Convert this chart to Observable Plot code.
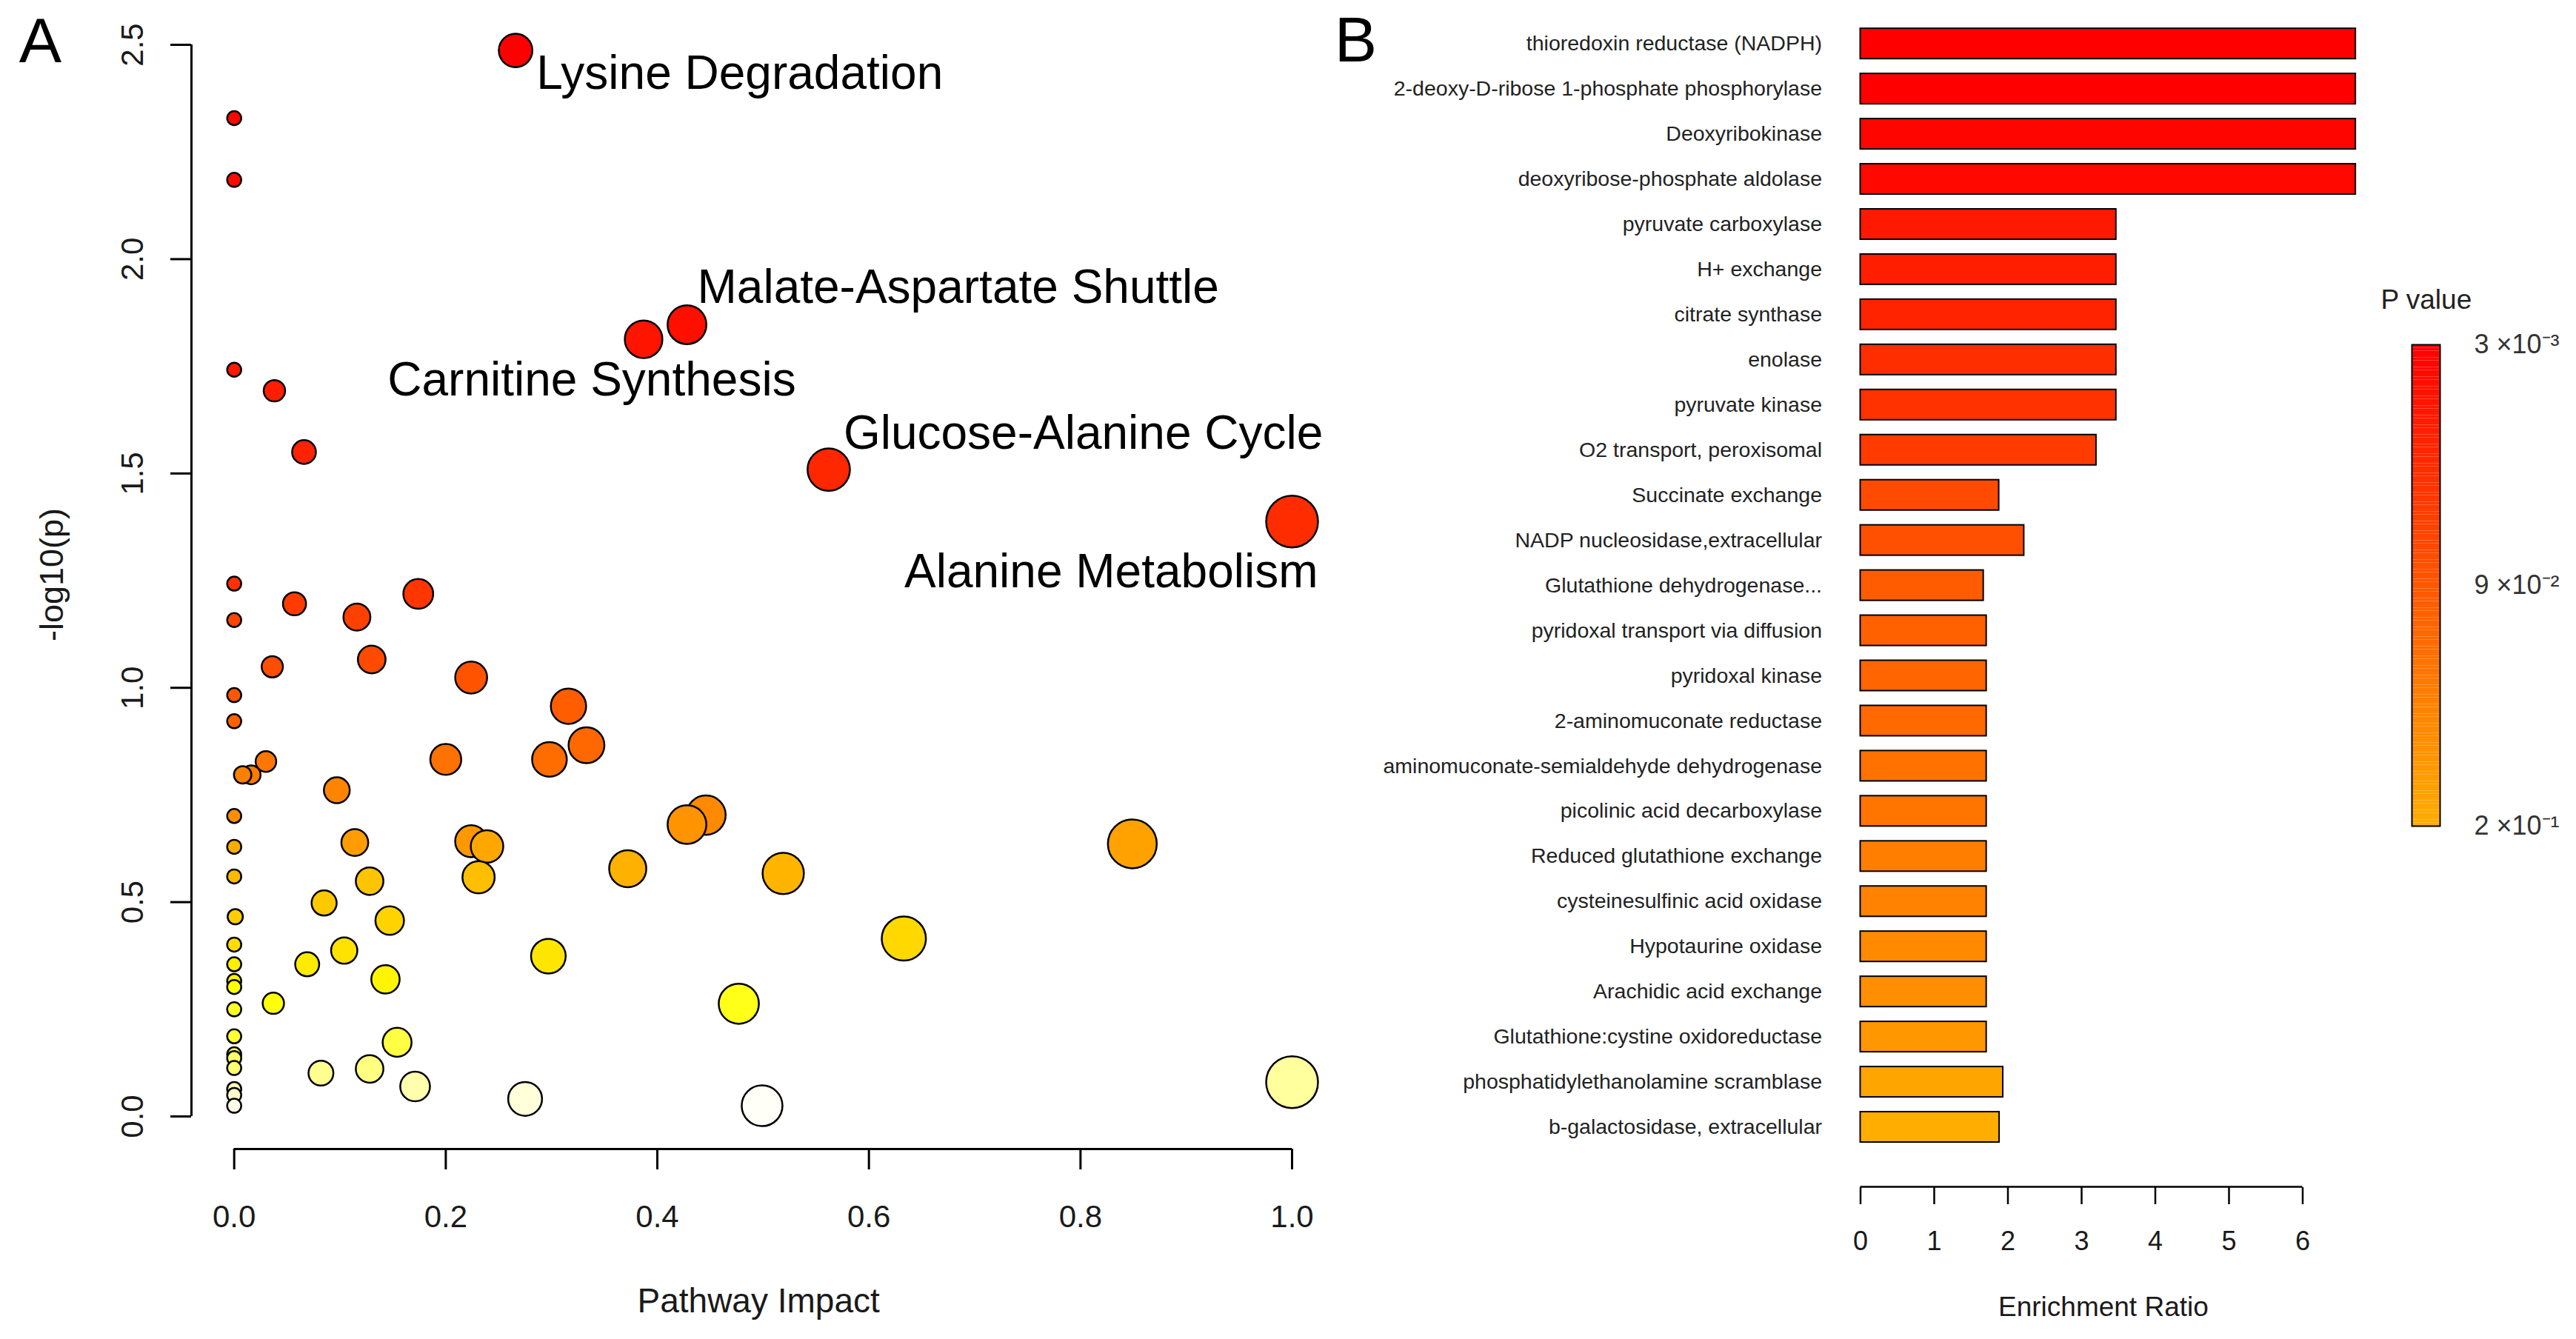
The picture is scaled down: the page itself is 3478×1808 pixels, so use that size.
<!DOCTYPE html>
<html>
<head>
<meta charset="utf-8">
<script src="https://cdn.jsdelivr.net/npm/d3@7"></script>
<script src="https://cdn.jsdelivr.net/npm/@observablehq/plot@0.6"></script>
<style>
html, body { margin: 0; padding: 0; background: #fff; }
#wrap { position: relative; width: 3478px; height: 1808px; overflow: hidden; background: #fff;
        font-family: "Liberation Sans", Arial, sans-serif; }
#wrap svg { position: absolute; top: 0; max-width: none; overflow: visible; background: transparent; }
</style>
</head>
<body>
<div id="wrap"></div>
<script>
// ---------------- Panel A data: pathway impact vs -log10(p) ----------------
const impact = [
  0.266, 0.000, 0.000, 0.428, 0.387, 0.000, 0.038, 0.066, 0.562, 1.000,
  0.000, 0.174, 0.057, 0.116, 0.000, 0.130, 0.036, 0.224, 0.000, 0.316,
  0.000, 0.333, 0.298, 0.200, 0.030, 0.016, 0.008, 0.097, 0.446, 0.000,
  0.428, 0.224, 0.114, 0.849, 0.239, 0.000, 0.372, 0.519, 0.000, 0.231,
  0.128, 0.085, 0.001, 0.147, 0.633, 0.000, 0.104, 0.297, 0.069, 0.000,
  0.143, 0.000, 0.000, 0.037, 0.477, 0.000, 0.000, 0.154, 0.000, 0.000,
  0.000, 0.128, 0.082, 1.000, 0.171, 0.000, 0.000, 0.275, 0.000, 0.499
];
const negLogP = [
  2.487, 2.329, 2.185, 1.847, 1.813, 1.742, 1.693, 1.550, 1.509, 1.388,
  1.243, 1.219, 1.196, 1.165, 1.158, 1.066, 1.049, 1.024, 0.983, 0.957,
  0.922, 0.866, 0.833, 0.833, 0.828, 0.797, 0.797, 0.761, 0.703, 0.701,
  0.681, 0.642, 0.639, 0.636, 0.630, 0.629, 0.578, 0.567, 0.560, 0.558,
  0.549, 0.498, 0.466, 0.457, 0.415, 0.401, 0.387, 0.374, 0.355, 0.355,
  0.320, 0.316, 0.302, 0.264, 0.263, 0.250, 0.187, 0.173, 0.145, 0.136,
  0.113, 0.111, 0.101, 0.080, 0.070, 0.064, 0.050, 0.041, 0.025, 0.025
];
const labelIndex = [0, 3, 4, 8, 9];
const labelNames = ["Lysine Degradation", "Malate-Aspartate Shuttle", "Carnitine Synthesis",
                    "Glucose-Alanine Cycle", "Alanine Metabolism"];
const xTicksA = [0, 0.2, 0.4, 0.6, 0.8, 1.0];
const yTicksA = [0, 0.5, 1.0, 1.5, 2.0, 2.5];

// ---------------- Panel B data: enrichment ratio ----------------
const enzymes = [
  "thioredoxin reductase (NADPH)",
  "2-deoxy-D-ribose 1-phosphate phosphorylase",
  "Deoxyribokinase",
  "deoxyribose-phosphate aldolase",
  "pyruvate carboxylase",
  "H+ exchange",
  "citrate synthase",
  "enolase",
  "pyruvate kinase",
  "O2 transport, peroxisomal",
  "Succinate exchange",
  "NADP nucleosidase,extracellular",
  "Glutathione dehydrogenase...",
  "pyridoxal transport via diffusion",
  "pyridoxal kinase",
  "2-aminomuconate reductase",
  "aminomuconate-semialdehyde dehydrogenase",
  "picolinic acid decarboxylase",
  "Reduced glutathione exchange",
  "cysteinesulfinic acid oxidase",
  "Hypotaurine oxidase",
  "Arachidic acid exchange",
  "Glutathione:cystine oxidoreductase",
  "phosphatidylethanolamine scramblase",
  "b-galactosidase, extracellular"
];
const enrichRatio = [
  6.72, 6.72, 6.72, 6.72, 3.47, 3.47, 3.47, 3.47, 3.47, 3.20,
  1.88, 2.22, 1.67, 1.71, 1.71, 1.71, 1.71, 1.71, 1.71, 1.71,
  1.71, 1.71, 1.71, 1.935, 1.885
];
const pValue = [
  0.0026, 0.0029, 0.0080, 0.0110, 0.0280, 0.0330, 0.0390, 0.0500, 0.0540, 0.0630,
  0.0800, 0.0840, 0.0970, 0.1010, 0.1060, 0.1100, 0.1190, 0.1230, 0.1320, 0.1360,
  0.1440, 0.1490, 0.1570, 0.1720, 0.1800
];
const xTicksB = [0, 1, 2, 3, 4, 5, 6];
const legendLabels = ["3 \u00d710\u207b\u00b3", "9 \u00d710\u207b\u00b2", "2 \u00d710\u207b\u00b9"];

// ---------------- helpers ----------------
// R's heat.colors(n)
function heatColors(n) {
  const j = Math.floor(n / 4), i = n - j, out = [];
  for (let k = 0; k < i; k++) {
    const h = i > 1 ? (k / (i - 1)) * 60 : 0;
    out.push(d3.hsl(h, 1, 0.5).formatHex());
  }
  const s0 = 1 - 1 / (2 * j), s1 = 1 / (2 * j);
  for (let k = 0; k < j; k++) {
    const s = j > 1 ? s0 + (s1 - s0) * k / (j - 1) : s0;
    out.push(d3.rgb(255, 255, Math.round(255 * (1 - s))).formatHex());
  }
  return out;
}

const font = "'Liberation Sans', Arial, Helvetica, sans-serif";
const wrap = document.getElementById("wrap");
const centered = {textAnchor: "middle", lineAnchor: "middle"};

// ---------------- Panel A ----------------
const n = impact.length;
const pts = impact.map((x, i) => ({impact: x, logp: negLogP[i], label: ""}));
const order = d3.range(n).sort((a, b) => negLogP[b] - negLogP[a]);
order.forEach((k, r) => { pts[k].rank = r; });
labelIndex.forEach((k, i) => { pts[k].label = labelNames[i]; });
const drawn = order.map(k => pts[k]);

const labelStyle = {
  "Lysine Degradation":       {textAnchor: "start",  dx: 28,  dy: 31.5},
  "Malate-Aspartate Shuttle": {textAnchor: "start",  dx: 14,  dy: -49.5},
  "Carnitine Synthesis":      {textAnchor: "middle", dx: -70, dy: 55},
  "Glucose-Alanine Cycle":    {textAnchor: "start",  dx: 20,  dy: -48.5},
  "Alanine Metabolism":       {textAnchor: "end",    dx: 35,  dy: 68}
};

const xDomA = [-0.0404, 1.0322];
const yDomA = [-0.076, 2.5346];

const plotA = Plot.plot({
  width: 1800, height: 1808,
  marginLeft: 258, marginRight: 10, marginTop: 40, marginBottom: 257,
  x: {domain: xDomA},
  y: {domain: yDomA},
  r: {type: "sqrt", domain: [0, 1], range: [9.5, 35]},
  color: {type: "ordinal", domain: d3.range(n), range: heatColors(n)},
  style: {fontFamily: font, background: "transparent", overflow: "visible"},
  marks: [
    Plot.ruleY([yDomA[0]], {x1: d3.min(xTicksA), x2: d3.max(xTicksA), stroke: "black", strokeWidth: 3}),
    Plot.ruleX([xDomA[0]], {y1: d3.min(yTicksA), y2: d3.max(yTicksA), stroke: "black", strokeWidth: 3}),
    Plot.axisX({ticks: xTicksA, tickSize: 28, tickPadding: 48, tickFormat: d3.format(".1f"),
                fontSize: 42, strokeWidth: 3, label: null, fill: "#1a1a1a"}),
    Plot.axisY({ticks: yTicksA, tickSize: 28, tickFormat: () => "", strokeWidth: 3, label: null}),
    Plot.text(yTicksA, {y: d => d, text: d => d3.format(".1f")(d), frameAnchor: "left",
                        dx: -79, rotate: -90, fontSize: 42, fill: "#1a1a1a", ...centered}),
    Plot.dot(drawn, {x: "impact", y: "logp", r: "impact", fill: "rank", stroke: "black",
                     strokeWidth: 2.5, sort: null}),
    ...labelNames.map(name => Plot.text(pts.filter(d => d.label === name),
      {x: "impact", y: "logp", text: "label", fontSize: 64, fill: "black", lineAnchor: "middle",
       ...labelStyle[name]})),
    Plot.text(["Pathway Impact"], {frameAnchor: "bottom-left", dx: 602, dy: 206,
                                   textAnchor: "start", lineAnchor: "middle", fontSize: 46, fill: "#1a1a1a"}),
    Plot.text(["-log10(p)"], {frameAnchor: "left", dx: -188, dy: -20, rotate: -90,
                              fontSize: 45, fill: "#1a1a1a", ...centered}),
    Plot.text(["A"], {frameAnchor: "top-left", dx: -204, dy: 16, fontSize: 86, fill: "black", ...centered})
  ]
});
plotA.style.left = "0px";
wrap.appendChild(plotA);

// ---------------- Panel B ----------------
const bars = enzymes.map((name, i) => ({name, ratio: enrichRatio[i], p: pValue[i]}));
const pExtent = d3.extent(pValue);
const colorB = {type: "linear", domain: pExtent, range: ["#FF0000", "#FFAD00"]};

const plotB = Plot.plot({
  width: 1678, height: 1808,
  marginLeft: 711.5, marginRight: 369.5, marginTop: 20, marginBottom: 205,
  x: {domain: [0, 6]},
  y: {domain: enzymes, range: [28.2, 1552], paddingInner: 0.327, paddingOuter: 0.1635, round: false},
  color: colorB,
  style: {fontFamily: font, background: "transparent", overflow: "visible"},
  marks: [
    Plot.barX(bars, {x: "ratio", y: "name", fill: "p", stroke: "black", strokeWidth: 2}),
    Plot.axisY({tickSize: 0, tickPadding: 52, fontSize: 28.5, label: null, fill: "#222"}),
    Plot.axisX({ticks: xTicksB, tickSize: 23, tickPadding: 36, fontSize: 36, strokeWidth: 2.5,
                tickFormat: d3.format("d"), label: null, fill: "#1a1a1a"}),
    Plot.ruleY([enzymes[enzymes.length - 1]], {x1: d3.min(xTicksB), x2: d3.max(xTicksB),
                dy: 80.5, stroke: "black", strokeWidth: 2.5}),
    Plot.text(["Enrichment Ratio"], {frameAnchor: "bottom-left", dx: 186, dy: 162,
                                     textAnchor: "start", lineAnchor: "middle", fontSize: 37, fill: "#1a1a1a"}),
    Plot.text(["B"], {frameAnchor: "top-left", dx: -681.5, dy: 35, fontSize: 86, fill: "black", ...centered})
  ]
});
plotB.style.left = "1800px";
wrap.appendChild(plotB);

// ---------------- Legend (colour bar) ----------------
const nSlices = 150;
const slices = d3.range(nSlices);
const pAt = t => pExtent[0] + t * (pExtent[1] - pExtent[0]);
const legendTicks = legendLabels.map((label, i) => ({label, p: pAt(i / (legendLabels.length - 1))}));

const plotL = Plot.plot({
  width: 278, height: 1200,
  marginLeft: 56, marginRight: 184, marginTop: 465, marginBottom: 85,
  x: {domain: [0, 1], axis: null},
  y: {domain: pExtent, reverse: true, axis: null},
  color: colorB,
  style: {fontFamily: font, background: "transparent", overflow: "visible"},
  marks: [
    Plot.rect(slices, {x1: () => 0, x2: () => 1,
                       y1: i => pAt(i / nSlices), y2: i => pAt((i + 1) / nSlices),
                       fill: i => pAt((i + 0.5) / nSlices), inset: 0}),
    Plot.frame({stroke: "black", strokeWidth: 2}),
    Plot.text(legendTicks, {y: "p", text: "label", frameAnchor: "right", dx: 46,
                            textAnchor: "start", lineAnchor: "middle", fontSize: 36, fill: "#333"}),
    Plot.text(["P value"], {frameAnchor: "top-left", dx: -42, dy: -60, textAnchor: "start",
                            lineAnchor: "middle", fontSize: 37, fill: "#222"})
  ]
});
plotL.style.left = "3200px";
wrap.appendChild(plotL);
</script>
</body>
</html>
